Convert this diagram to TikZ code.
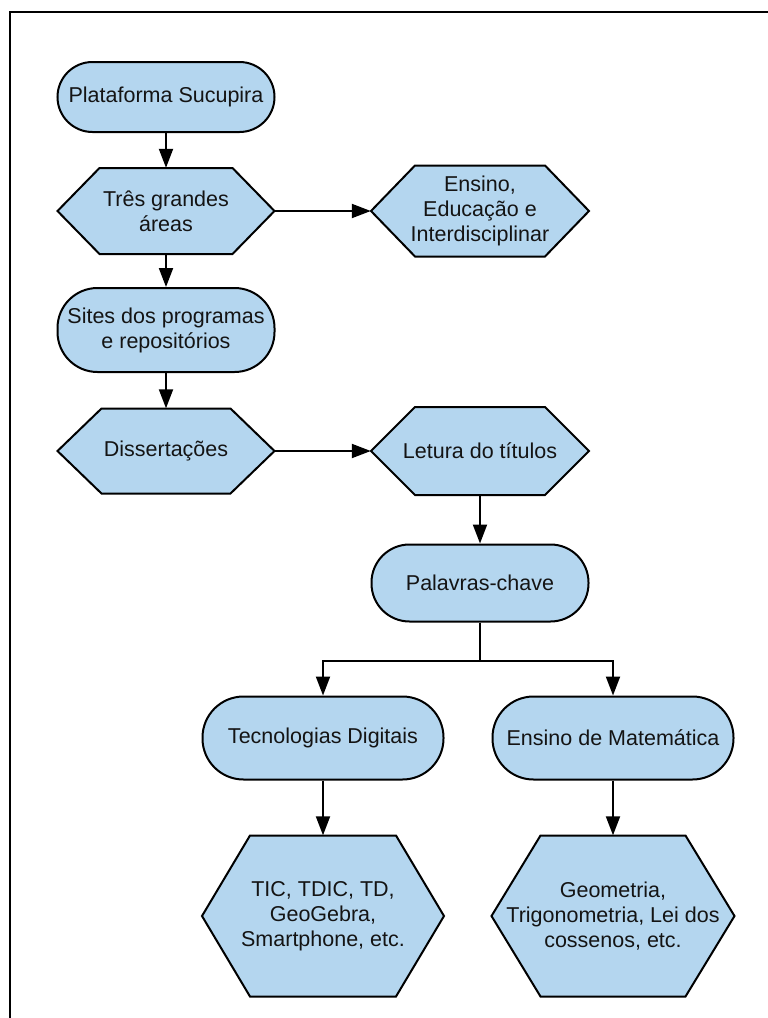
\documentclass[tikz,border=0pt]{standalone}
\usepackage{fontspec}
\setmainfont{Liberation Sans}
\usetikzlibrary{arrows.meta}
\definecolor{boxfill}{RGB}{180,214,239}
\definecolor{txt}{RGB}{20,20,20}
\tikzset{
  base/.style={font=\fontsize{21.5}{25}\selectfont, align=center, text=txt},
  term/.style={base, draw, line width=2pt, fill=boxfill, rectangle, rounded corners=#1, inner sep=0pt},
  hexlabel/.style={base, draw=none, rectangle, inner sep=0pt},
  hexshape/.style={draw, line width=2pt, fill=boxfill, line join=miter},
  conn/.style={line width=2pt, -{Triangle[length=19pt,width=14pt]}},
  frame/.style={line width=2.5pt}
}
\newcommand\hexnode[7]{%
  \draw[hexshape] ({#2-#4/2},#3) -- ({#2-#4/2+#6},{#3-#5/2}) -- ({#2+#4/2-#6},{#3-#5/2})
    -- ({#2+#4/2},#3) -- ({#2+#4/2-#6},{#3+#5/2}) -- ({#2-#4/2+#6},{#3+#5/2}) -- cycle;
  \node[hexlabel, minimum width=#4pt, minimum height=#5pt] (#1) at (#2,#3) {#7};
}
\begin{document}
\begin{tikzpicture}[x=1pt,y=-1pt]
\useasboundingbox (0,0) rectangle (768,1018);
\coordinate (fb) at (10,1018);
\coordinate (fc) at (10,12);
\coordinate (fr) at (768,12);
\draw[frame] (fb) -- (fc) -- (fr);

\node[term=35pt, minimum width=217pt, minimum height=70pt] (plat) at (166,97) {Plataforma Sucupira};
\hexnode{tres}{166}{211}{217}{86}{42}{Três grandes\\áreas}
\hexnode{ens}{480}{211}{218}{91}{44}{Ensino,\\Educação e\\Interdisciplinar}
\node[term=40pt, minimum width=217pt, minimum height=84pt] (sites) at (166,330) {Sites dos programas\\e repositórios};
\hexnode{diss}{166}{451}{217}{85}{44}{Dissertações}
\hexnode{let}{480}{451}{218}{88}{44}{Letura do títulos}
\node[term=38pt, minimum width=217pt, minimum height=77pt] (pal) at (480,583) {Palavras-chave};
\node[term=41pt, minimum width=241pt, minimum height=83pt] (tec) at (323,738) {Tecnologias Digitais};
\node[term=41pt, minimum width=241pt, minimum height=83pt] (mat) at (613,738) {Ensino de Matemática};
\hexnode{tic}{323}{916}{242}{161}{48}{TIC, TDIC, TD,\\GeoGebra,\\Smartphone, etc.}
\hexnode{geo}{613}{916}{243}{161}{49}{Geometria,\\Trigonometria, Lei dos\\cossenos, etc.}

\draw[conn] (plat.south) -- (tres.north);
\draw[conn] (tres.east) -- (ens.west);
\draw[conn] (tres.south) -- (sites.north);
\draw[conn] (sites.south) -- (diss.north);
\draw[conn] (diss.east) -- (let.west);
\draw[conn] (let.south) -- (pal.north);
\draw[conn] (pal.south) -- ++(0,38) -| (tec.north);
\draw[conn] (pal.south) -- ++(0,38) -| (mat.north);
\draw[conn] (tec.south) -- (tic.north);
\draw[conn] (mat.south) -- (geo.north);
\end{tikzpicture}
\end{document}
